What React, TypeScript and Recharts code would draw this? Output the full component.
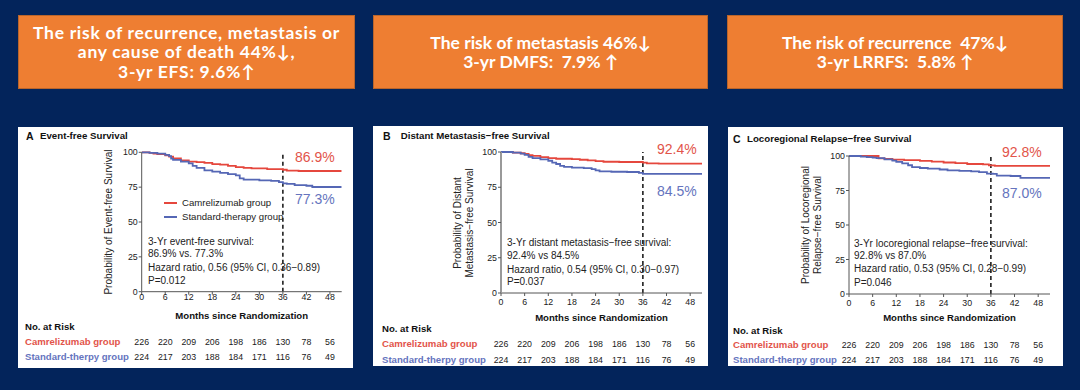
import React from 'react';
import { LineChart, Line, XAxis, YAxis, ReferenceLine } from 'recharts';

type Pt = [number, number];

// ---------- DATA ----------
const months = [0, 6, 12, 18, 24, 30, 36, 42, 48];
const yTicks = [0, 25, 50, 75, 100];
const riskCam = [226, 220, 209, 206, 198, 186, 130, 78, 56];
const riskStd = [224, 217, 203, 188, 184, 171, 116, 76, 49];
const groupNames = ['Camrelizumab group', 'Standard-therpy group'];
const legendNames = ['Camrelizumab group', 'Standard-therapy group'];

const efsCam: Pt[] = [[0,100],[2,99.6],[3,99.1],[4,98.7],[6,97.8],[7,96.9],[8,95.6],[10,94.2],[12,93.3],[14,92.9],[16,92.4],[18,91.5],[20,91.1],[22,90.2],[24,89.3],[26,88.8],[28,88.4],[32,88],[36,87.5],[37,86.9],[40,86.6],[51,86.6]];
const efsStd: Pt[] = [[0,100],[2,99.6],[4,99],[6,98.2],[7,97.3],[7.5,95.5],[8,94.6],[10,93.3],[12,92],[13,90.2],[14,88.8],[16,87],[18,86.1],[20,85.3],[22,84.4],[24,83.5],[25,81.3],[26,80.4],[30,79.9],[33,79.5],[35,78.6],[36,77.7],[37,77.3],[39,76.4],[42,76],[43.5,75.1],[51,75.1]];
const dmfsCam: Pt[] = [[0,100],[2,100],[3,99.6],[5,99.1],[6,98.6],[7,97.8],[8,97.2],[10,96.4],[12,95.6],[14,95.2],[18,95],[20,94.5],[22,94],[24,93.5],[26,93.1],[30,92.9],[36,92.4],[37,91.9],[40,91.7],[51,91.7]];
const dmfsStd: Pt[] = [[0,100],[2,100],[3,99.5],[5,98.9],[6,98],[7,96.5],[8,95.6],[10,94.8],[12,93.8],[13,92.5],[14,91.5],[15,90.2],[16,89.4],[18,88.9],[21,88.5],[23,87.8],[24,87],[25,86.2],[28,86],[32,85.8],[35,85.2],[36,84.5],[51,84.5]];
const lrrfsCam: Pt[] = [[0,100],[7,100],[7.5,98.3],[9,97.9],[11,97.4],[14,97],[18,96.4],[21,95.9],[24,95.3],[27,94.8],[30,94.2],[34,94],[35.5,93.2],[37,92.8],[51,92.8]];
const lrrfsStd: Pt[] = [[0,100],[3,99.6],[4.5,99.2],[6,98.8],[7,98.4],[9,97.5],[11,96.6],[12,95.8],[13.5,94.6],[15,93.3],[16,92],[18,91.3],[20,90.8],[23,90.2],[25,89.6],[28,89.2],[31,88.8],[33,88.3],[35,87.2],[36.5,87],[37.5,85.8],[41,85.5],[43.5,84.2],[51,84.2]];

const headlines = [
  ['The risk of recurrence, metastasis or', 'any cause of death 44%\u2193,', '3-yr EFS: 9.6%\u2191'],
  ['The risk of metastasis 46%\u2193', '3-yr DMFS:  7.9% \u2191'],
  ['The risk of recurrence  47%\u2193', '3-yr LRRFS:  5.8% \u2191'],
];

const letters = ['A', 'B', 'C'];
const titles = ['Event-free Survival', 'Distant Metastasis\u2212free Survival', 'Locoregional Relapse\u2212free Survival'];
const yLabels = [
  ['Probability of Event-free Survival'],
  ['Probability of Distant', 'Metastasis\u2212free Survival'],
  ['Probability of Locoregional', 'Relapse\u2212free Survival'],
];
const camPcts = ['86.9%', '92.4%', '92.8%'];
const stdPcts = ['77.3%', '84.5%', '87.0%'];
const notes = [
  ['3-Yr event-free survival:', '86.9% vs. 77.3%', 'Hazard ratio, 0.56 (95% CI, 0.36\u22120.89)', 'P=0.012'],
  ['3-Yr distant metastasis\u2212free survival:', '92.4% vs 84.5%', 'Hazard ratio, 0.54 (95% CI, 0.30\u22120.97)', 'P=0.037'],
  ['3-Yr locoregional relapse\u2212free survival:', '92.8% vs 87.0%', 'Hazard ratio, 0.53 (95% CI, 0.28\u22120.99)', 'P=0.046'],
];
const camSeries = [efsCam, dmfsCam, lrrfsCam];
const stdSeries = [efsStd, dmfsStd, lrrfsStd];

// ---------- STYLE / LAYOUT ----------
const BG = '#03245B';
const ORANGE = '#EE7E32';
const RED = '#E5473D';
const BLUE = '#5567B5';
const RED_T = '#E2544A';
const BLUE_T = '#6574BE';
const FONT = '"Liberation Sans", Arial, sans-serif';
const HFONT = 'Lato, "Open Sans", sans-serif';

const boxes = [
  { x: 18, y: 15, w: 337, h: 74, ls: 0.7 },
  { x: 373, y: 15, w: 335, h: 74, ls: 0 },
  { x: 727, y: 15, w: 336, h: 74, ls: 0 },
];

const layouts = [
  {
    panel: { x: 18, y: 127, w: 335, h: 241 }, plot: { x: 141.7, y: 152.3, w: 200, h: 139.4 },
    title: { x: 26, tx: 40, y: 136 }, yLab: [109], note: { x: 148, ys: [242, 254, 268, 281] },
    pct: { x: 295, cy: 157, sy: 199 }, xLab: 316, nar: { x: 25, y: 327 }, rows: [342, 357], tickC: 297, axisC: '#555', axisW: 1,
  },
  {
    panel: { x: 373, y: 126, w: 335, h: 240 }, plot: { x: 501, y: 152, w: 201, h: 141 },
    title: { x: 383, tx: 400.7, y: 136 }, yLab: [458, 470], note: { x: 507, ys: [243, 256, 270, 282] },
    pct: { x: 657, cy: 149, sy: 191 }, xLab: 318, nar: { x: 382, y: 329 }, rows: [344, 360], tickC: 302, axisC: '#999', axisW: 2,
  },
  {
    panel: { x: 728, y: 127, w: 335, h: 239 }, plot: { x: 849, y: 156, w: 201, h: 138 },
    title: { x: 733, tx: 747, y: 139 }, yLab: [806, 818], note: { x: 854, ys: [244, 256, 269, 283] },
    pct: { x: 1002, cy: 152, sy: 193 }, xLab: 318, nar: { x: 733, y: 331 }, rows: [345, 360], tickC: 302.5, axisC: '#555', axisW: 1,
  },
];

const toRows = (pts: Pt[]) => pts.map(([t, s]) => ({ t, s }));

type TProps = { x: number; y: number; size?: number; weight?: number; color?: string; anchor?: 'start' | 'middle'; font?: string; children: React.ReactNode };
const T = ({ x, y, size = 10, weight = 400, color = '#222', anchor = 'start', font = FONT, children }: TProps) => (
  <div
    style={{
      position: 'absolute', left: x, top: y - size * 0.6, height: size * 1.2, lineHeight: `${size * 1.2}px`,
      fontSize: size, fontWeight: weight, color, fontFamily: font, whiteSpace: 'nowrap',
      transform: anchor === 'middle' ? 'translateX(-50%)' : undefined,
    }}
  >
    {children}
  </div>
);

const TICK = 8.8;

function Panel({ i }: { i: number }) {
  const L = layouts[i];
  const { panel, plot } = L;
  const yAxisW = 30;
  const xAxisH = 12;
  const margin = {
    top: plot.y - panel.y,
    left: plot.x - panel.x - yAxisW,
    right: panel.w - (plot.x - panel.x) - plot.w,
    bottom: panel.h - (plot.y - panel.y) - plot.h - xAxisH,
  };
  const axisY = plot.y + plot.h;
  const base = (c: number) => c + TICK * 0.358 - (axisY + 3);
  const XTick = (props: any) => {
    const { x, y, payload } = props;
    const k = months.indexOf(payload.value);
    return (
      <g fontFamily={FONT} fontSize={TICK} textAnchor="middle" fill="#1a1a1a">
        <text x={x} y={y} dy={base(L.tickC)}>{payload.value}</text>
        <text x={x} y={y} dy={base(L.rows[0])}>{riskCam[k]}</text>
        <text x={x} y={y} dy={base(L.rows[1])}>{riskStd[k]}</text>
      </g>
    );
  };
  const cx = plot.x + plot.w / 2;
  const cy = plot.y + plot.h / 2;
  return (
    <>
      <div style={{ position: 'absolute', left: panel.x, top: panel.y, width: panel.w, height: panel.h, background: '#fff' }}>
        <LineChart width={panel.w} height={panel.h} margin={margin}>
          <XAxis
            type="number" dataKey="t" domain={[0, 51]} ticks={months} allowDataOverflow height={xAxisH}
            tickSize={3} tickMargin={0} interval={0} tick={<XTick />}
            stroke="#555" axisLine={{ stroke: '#555' }} tickLine={{ stroke: '#555' }}
          />
          <YAxis
            type="number" domain={[0, 100]} ticks={yTicks} width={yAxisW} tickSize={3} tickMargin={1}
            tick={{ fontSize: TICK, fill: '#1a1a1a', fontFamily: FONT }} interval={0}
            axisLine={{ stroke: L.axisC, strokeWidth: L.axisW }} tickLine={{ stroke: '#555' }}
          />
          <ReferenceLine x={36} stroke="#111" strokeWidth={1.5} strokeDasharray="4 3" />
          <Line data={toRows(camSeries[i])} dataKey="s" type="stepAfter" stroke={RED} strokeWidth={1.8} dot={false} isAnimationActive={false} />
          <Line data={toRows(stdSeries[i])} dataKey="s" type="stepAfter" stroke={BLUE} strokeWidth={1.8} dot={false} isAnimationActive={false} />
        </LineChart>
      </div>
      <T x={L.title.x} y={L.title.y} size={10.5} weight={700} color="#111">{letters[i]}</T>
      <T x={L.title.tx} y={L.title.y} size={9.7} weight={700} color="#111">{titles[i]}</T>
      {yLabels[i].map((s, j) => (
        <div key={j} style={{
          position: 'absolute', left: L.yLab[j] - 100, top: cy - 6, width: 200, height: 12, lineHeight: '12px',
          textAlign: 'center', fontSize: 10, fontFamily: FONT, color: '#222', transform: 'rotate(-90deg)', whiteSpace: 'nowrap',
        }}>{s}</div>
      ))}
      {notes[i].map((s, j) => (
        <T key={j} x={L.note.x} y={L.note.ys[j]} size={10}>{s}</T>
      ))}
      <T x={L.pct.x} y={L.pct.cy} size={14} color={RED_T}>{camPcts[i]}</T>
      <T x={L.pct.x} y={L.pct.sy} size={14} color={BLUE_T}>{stdPcts[i]}</T>
      <T x={cx} y={L.xLab} size={9.6} weight={700} anchor="middle" color="#111">Months since Randomization</T>
      <T x={L.nar.x} y={L.nar.y} size={9.6} weight={700} color="#111">No. at Risk</T>
      <T x={L.nar.x} y={L.rows[0]} size={9.6} weight={700} color={RED_T}>{groupNames[0]}</T>
      <T x={L.nar.x} y={L.rows[1]} size={9.6} weight={700} color={BLUE_T}>{groupNames[1]}</T>
      {i === 0 && (
        <>
          <div style={{ position: 'absolute', left: 164, top: 202.2, width: 13, height: 1.6, background: RED }} />
          <div style={{ position: 'absolute', left: 164, top: 216.2, width: 13, height: 1.6, background: BLUE }} />
          <T x={182} y={203} size={9.6}>{legendNames[0]}</T>
          <T x={182} y={217} size={9.6}>{legendNames[1]}</T>
        </>
      )}
    </>
  );
}

export default function App() {
  return (
    <div style={{ position: 'absolute', left: 0, top: 0, width: 1080, height: 390, background: BG, overflow: 'hidden' }}>
      {boxes.map((b, i) => (
        <div key={i} style={{
          position: 'absolute', left: b.x, top: b.y, width: b.w, height: b.h, boxSizing: 'border-box',
          background: ORANGE, border: '1px solid #B9652C', display: 'flex', flexDirection: 'column',
          justifyContent: 'center', alignItems: 'center', color: '#fff', fontFamily: HFONT, fontWeight: 700,
          fontSize: 17.5, lineHeight: '19.5px', letterSpacing: b.ls, textAlign: 'center',
        }}>
          {headlines[i].map((s, j) => <div key={j} style={{ whiteSpace: 'pre' }}>{s}</div>)}
        </div>
      ))}
      {[0, 1, 2].map((i) => <Panel key={i} i={i} />)}
    </div>
  );
}
